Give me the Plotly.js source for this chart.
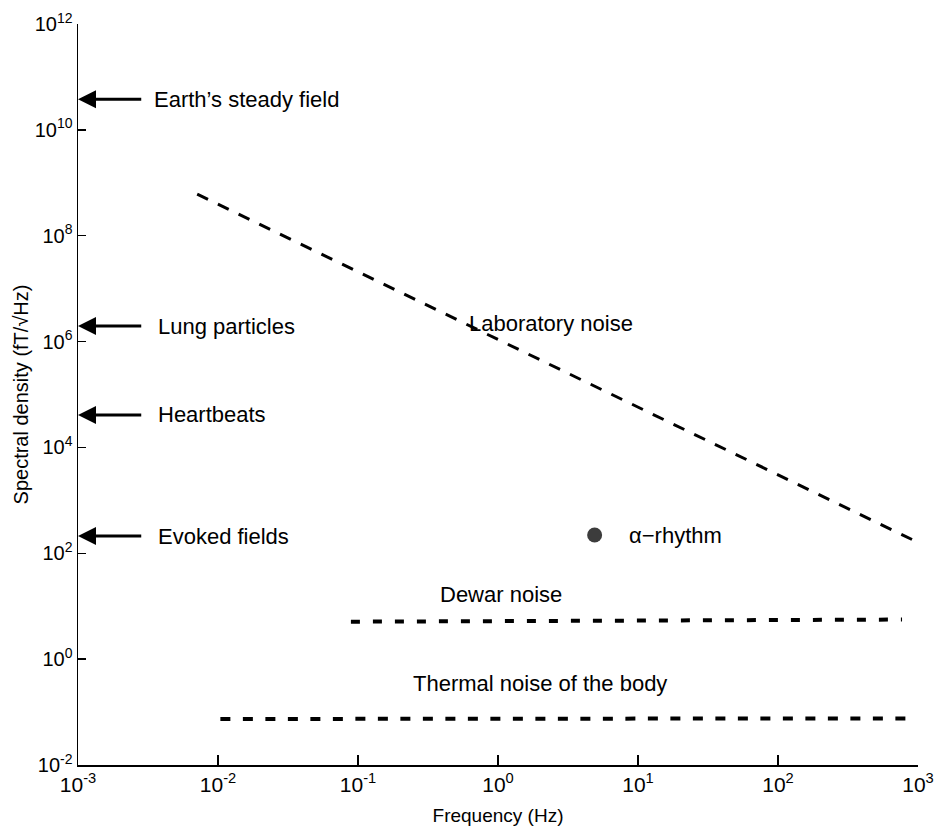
<!DOCTYPE html>
<html>
<head>
<meta charset="utf-8">
<script src="https://cdn.plot.ly/plotly-3.0.1.min.js"></script>
<style>
  html, body { margin: 0; padding: 0; background: #fff; }
  #chart { width: 934px; height: 831px; }
</style>
</head>
<body>
<div id="chart"></div>
<script>
// Magnetic noise spectral densities (fT/sqrt(Hz)) versus frequency (Hz)
const labNoiseFreq = [0.0071, 906];
const labNoiseLevel = [6.1e8, 182];

const dewarFreq = [0.089, 769];
const dewarLevel = [5.1, 5.6];

const thermalFreq = [0.0104, 850];
const thermalLevel = [0.074, 0.076];

const alphaFreq = [4.9];
const alphaLevel = [221];

// Biomagnetic / environmental source levels marked on the y axis
const sourceNames = ["Earth\u2019s steady field", "Lung particles", "Heartbeats", "Evoked fields"];
const sourceLevels = [3.8e10, 1.96e6, 4.1e4, 212];

// Axis ticks
const xTickVals = [1e-3, 1e-2, 1e-1, 1e0, 1e1, 1e2, 1e3];
const xTickText = ["10<sup>-3</sup>", "10<sup>-2</sup>", "10<sup>-1</sup>", "10<sup>0</sup>", "10<sup>1</sup>", "10<sup>2</sup>", "10<sup>3</sup>"];
const yTickVals = [1e-2, 1e0, 1e2, 1e4, 1e6, 1e8, 1e10, 1e12];
const yTickText = ["10<sup>-2</sup>", "10<sup>0</sup>", "10<sup>2</sup>", "10<sup>4</sup>", "10<sup>6</sup>", "10<sup>8</sup>", "10<sup>10</sup>", "10<sup>12</sup>"];

const FONT = "Liberation Sans, Arial, Helvetica, sans-serif";
const lg = Math.log10;

const traces = [
  { x: labNoiseFreq, y: labNoiseLevel, mode: "lines", type: "scatter",
    line: { color: "#000", width: 3, dash: "12px,11px" }, hoverinfo: "skip" },
  { x: dewarFreq, y: dewarLevel, mode: "lines", type: "scatter",
    line: { color: "#000", width: 4, dash: "9px,13px" }, hoverinfo: "skip" },
  { x: thermalFreq, y: thermalLevel, mode: "lines", type: "scatter",
    line: { color: "#000", width: 4, dash: "10px,12.5px" }, hoverinfo: "skip" },
  { x: alphaFreq, y: alphaLevel, mode: "markers", type: "scatter",
    marker: { color: "#3c3c3c", size: 15, line: { width: 0 } }, hoverinfo: "skip" }
];

const annotations = [];

// arrows pointing at the y axis, with their labels
const labelStartX = [0.0034, 0.0036, 0.0036, 0.0036];
sourceLevels.forEach((lvl, i) => {
  annotations.push({
    x: lg(1e-3), y: lg(lvl), xref: "x", yref: "y",
    ax: lg(0.0029), ay: lg(lvl), axref: "x", ayref: "y",
    text: "", showarrow: true, arrowhead: 2, arrowsize: 1.2, arrowwidth: 3,
    arrowcolor: "#000", standoff: 0, startstandoff: 0
  });
  annotations.push({
    x: lg(labelStartX[i]), y: lg(lvl), xref: "x", yref: "y",
    text: sourceNames[i], showarrow: false, xanchor: "left", yanchor: "middle",
    font: { family: FONT, size: 22, color: "#000" }
  });
});

// curve labels
annotations.push({
  x: lg(2.39), y: lg(2.2e6), xref: "x", yref: "y", text: "Laboratory noise",
  showarrow: false, xanchor: "center", yanchor: "middle",
  font: { family: FONT, size: 22, color: "#000" }
});
annotations.push({
  x: lg(1.05), y: lg(17), xref: "x", yref: "y", text: "Dewar noise",
  showarrow: false, xanchor: "center", yanchor: "middle",
  font: { family: FONT, size: 22, color: "#000" }
});
annotations.push({
  x: lg(2.0), y: lg(0.34), xref: "x", yref: "y", text: "Thermal noise of the body",
  showarrow: false, xanchor: "center", yanchor: "middle",
  font: { family: FONT, size: 22, color: "#000" }
});
annotations.push({
  x: lg(8.4), y: lg(alphaLevel[0]), xref: "x", yref: "y", text: "\u03b1\u2212rhythm",
  showarrow: false, xanchor: "left", yanchor: "middle",
  font: { family: FONT, size: 22, color: "#000" }
});

const layout = {
  width: 934, height: 831,
  margin: { l: 78, r: 16, t: 24, b: 66 },
  paper_bgcolor: "#fff", plot_bgcolor: "#fff",
  showlegend: false,
  font: { family: FONT, color: "#000" },
  xaxis: {
    type: "log", range: [-3, 3], autorange: false,
    tickvals: xTickVals, ticktext: xTickText,
    ticks: "inside", ticklen: 10, tickwidth: 1.3, tickcolor: "#000",
    showline: true, linecolor: "#000", linewidth: 1.5, mirror: false,
    showgrid: false, zeroline: false,
    tickfont: { family: FONT, size: 21, color: "#000" },
    title: { text: "Frequency (Hz)", font: { family: FONT, size: 19, color: "#000" }, standoff: 14 }
  },
  yaxis: {
    type: "log", range: [-2, 12], autorange: false,
    tickvals: yTickVals, ticktext: yTickText,
    ticks: "inside", ticklen: 8, tickwidth: 1.3, tickcolor: "#000",
    showline: true, linecolor: "#000", linewidth: 1.5, mirror: false,
    showgrid: false, zeroline: false,
    tickfont: { family: FONT, size: 20, color: "#000" },
    title: { text: "Spectral density (fT/\u221aHz)", font: { family: FONT, size: 20, color: "#000" }, standoff: 0 }
  },
  annotations: annotations
};

Plotly.newPlot("chart", traces, layout, { staticPlot: true, displayModeBar: false });
</script>
</body>
</html>
